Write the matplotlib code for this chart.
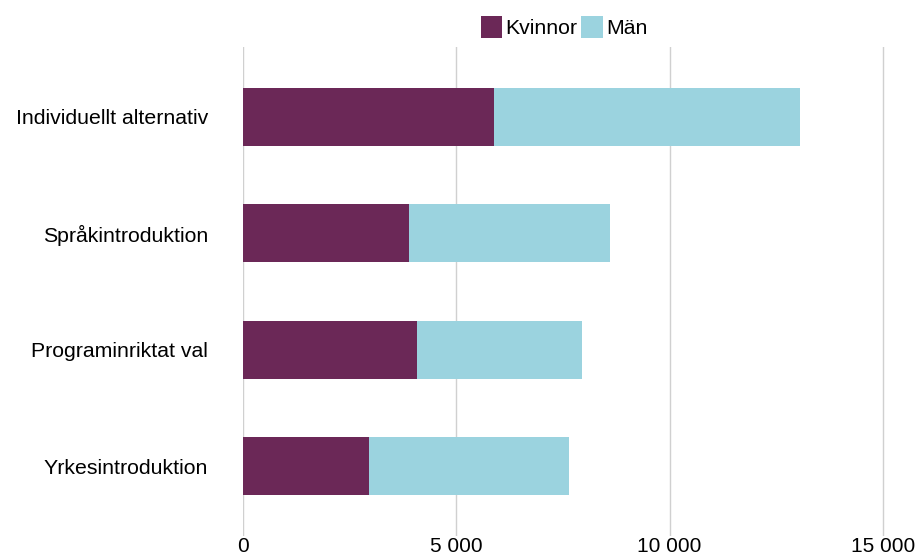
import matplotlib
matplotlib.use("Agg")
import matplotlib.pyplot as plt
from matplotlib.ticker import FuncFormatter

categories = ["Individuellt alternativ", "Språkintroduktion", "Programinriktat val", "Yrkesintroduktion"]
kvinnor = [5880, 3890, 4085, 2960]
man = [7180, 4710, 3860, 4680]
series_names = ["Kvinnor", "Män"]
xticks = [0, 5000, 10000, 15000]

plt.rcParams['font.family'] = ['Liberation Sans', 'DejaVu Sans']

fig = plt.figure(figsize=(9.17, 5.56), dpi=100)
ax = fig.add_axes([243/917, 1-536/556, (887-243)/917, (536-47)/556])

y = list(range(len(categories)))
c1 = "#6B2857"
c2 = "#9BD3DF"
ax.barh(y, kvinnor, height=0.5, color=c1, label=series_names[0], zorder=3)
ax.barh(y, man, left=kvinnor, height=0.5, color=c2, label=series_names[1], zorder=3)

ax.set_ylim(3.6, -0.6)
ax.set_xlim(0, 15000 * 644 / 640)
ax.set_yticks(y)
ax.set_yticklabels(categories, fontsize=15.3)
ax.set_xticks(xticks)
ax.xaxis.set_major_formatter(FuncFormatter(lambda v, p: f"{int(v):,}".replace(",", " ")))
ax.tick_params(axis='x', labelsize=15, length=0, pad=1)
ax.tick_params(axis='y', length=0, pad=25)
for s in ax.spines.values():
    s.set_visible(False)
ax.grid(axis='x', color='#D0D0D0', linewidth=1, zorder=0)
ax.set_axisbelow(True)

leg = fig.legend(loc='center', bbox_to_anchor=(564/917, 1-27/556), ncol=2, frameon=False,
                 fontsize=15.3, handlelength=1.0, handleheight=1.2, handletextpad=0.15,
                 columnspacing=0.2)

fig.savefig("out.png", dpi=100)
